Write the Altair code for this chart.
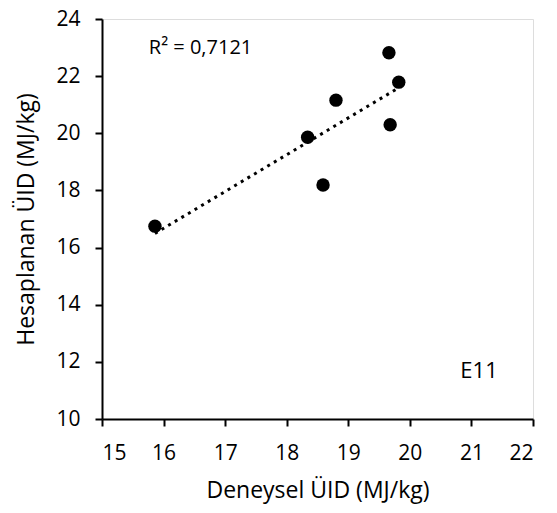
import altair as alt
import pandas as pd

deneysel = [15.86, 18.34, 18.59, 18.80, 19.66, 19.68, 19.82]
hesaplanan = [16.75, 19.86, 18.19, 21.16, 22.82, 20.30, 21.79]
x_ticks = [15, 16, 17, 18, 19, 20, 21, 22]
y_ticks = [10, 12, 14, 16, 18, 20, 22, 24]
notes = ["R² = 0,7121", "E11"]
note_x = [15.76, 20.82]
note_y = [22.98, 11.69]
note_size = [20, 22]

df = pd.DataFrame({"x": deneysel, "y": hesaplanan})
notes_df = pd.DataFrame({"t": notes, "x": note_x, "y": note_y, "s": note_size})

FONT = "Open Sans"

xs = alt.Scale(domain=[15, 22], nice=False, zero=False)
ys = alt.Scale(domain=[10, 24], nice=False, zero=False)

xaxis = alt.Axis(values=x_ticks, format="d", title="Deneysel ÜID (MJ/kg)", grid=False,
                 domainColor="black", domainWidth=2, tickColor="black", tickWidth=2,
                 tickSize=7, labelFontSize=21, labelFont=FONT, labelColor="black",
                 labelPadding=16, titleFont=FONT, titleFontSize=23, titleFontWeight="normal",
                 titleColor="black", titlePadding=16)
yaxis = alt.Axis(values=y_ticks, format="d", title="Hesaplanan ÜID (MJ/kg)", grid=False,
                 domainColor="black", domainWidth=2, tickColor="black", tickWidth=2,
                 tickSize=7, labelFontSize=21, labelFont=FONT, labelColor="black",
                 labelPadding=15, titleFont=FONT, titleFontSize=23, titleFontWeight="normal",
                 titleColor="black", titlePadding=17)

points = alt.Chart(df).mark_circle(size=180, color="black", opacity=1).encode(
    x=alt.X("x:Q", scale=xs, axis=xaxis),
    y=alt.Y("y:Q", scale=ys, axis=yaxis),
)

trend = alt.Chart(df).mark_line(color="black", strokeWidth=3, strokeDash=[3, 4.7]).transform_regression(
    "x", "y"
).encode(
    x=alt.X("x:Q", scale=xs),
    y=alt.Y("y:Q", scale=ys),
)

texts = alt.Chart(notes_df).mark_text(align="left", baseline="middle", font=FONT, color="black").encode(
    x=alt.X("x:Q", scale=xs),
    y=alt.Y("y:Q", scale=ys),
    text="t:N",
    size=alt.Size("s:Q", scale=None, legend=None),
)

chart = alt.layer(trend, points, texts).properties(
    width=431, height=400,
    autosize=alt.AutoSizeParams(type="none"),
    padding={"left": 94, "top": 11, "right": 16, "bottom": 92},
).configure_view(stroke=None).configure(background="white")

chart.save("out.html", embed_options={"renderer": "svg", "actions": False})
